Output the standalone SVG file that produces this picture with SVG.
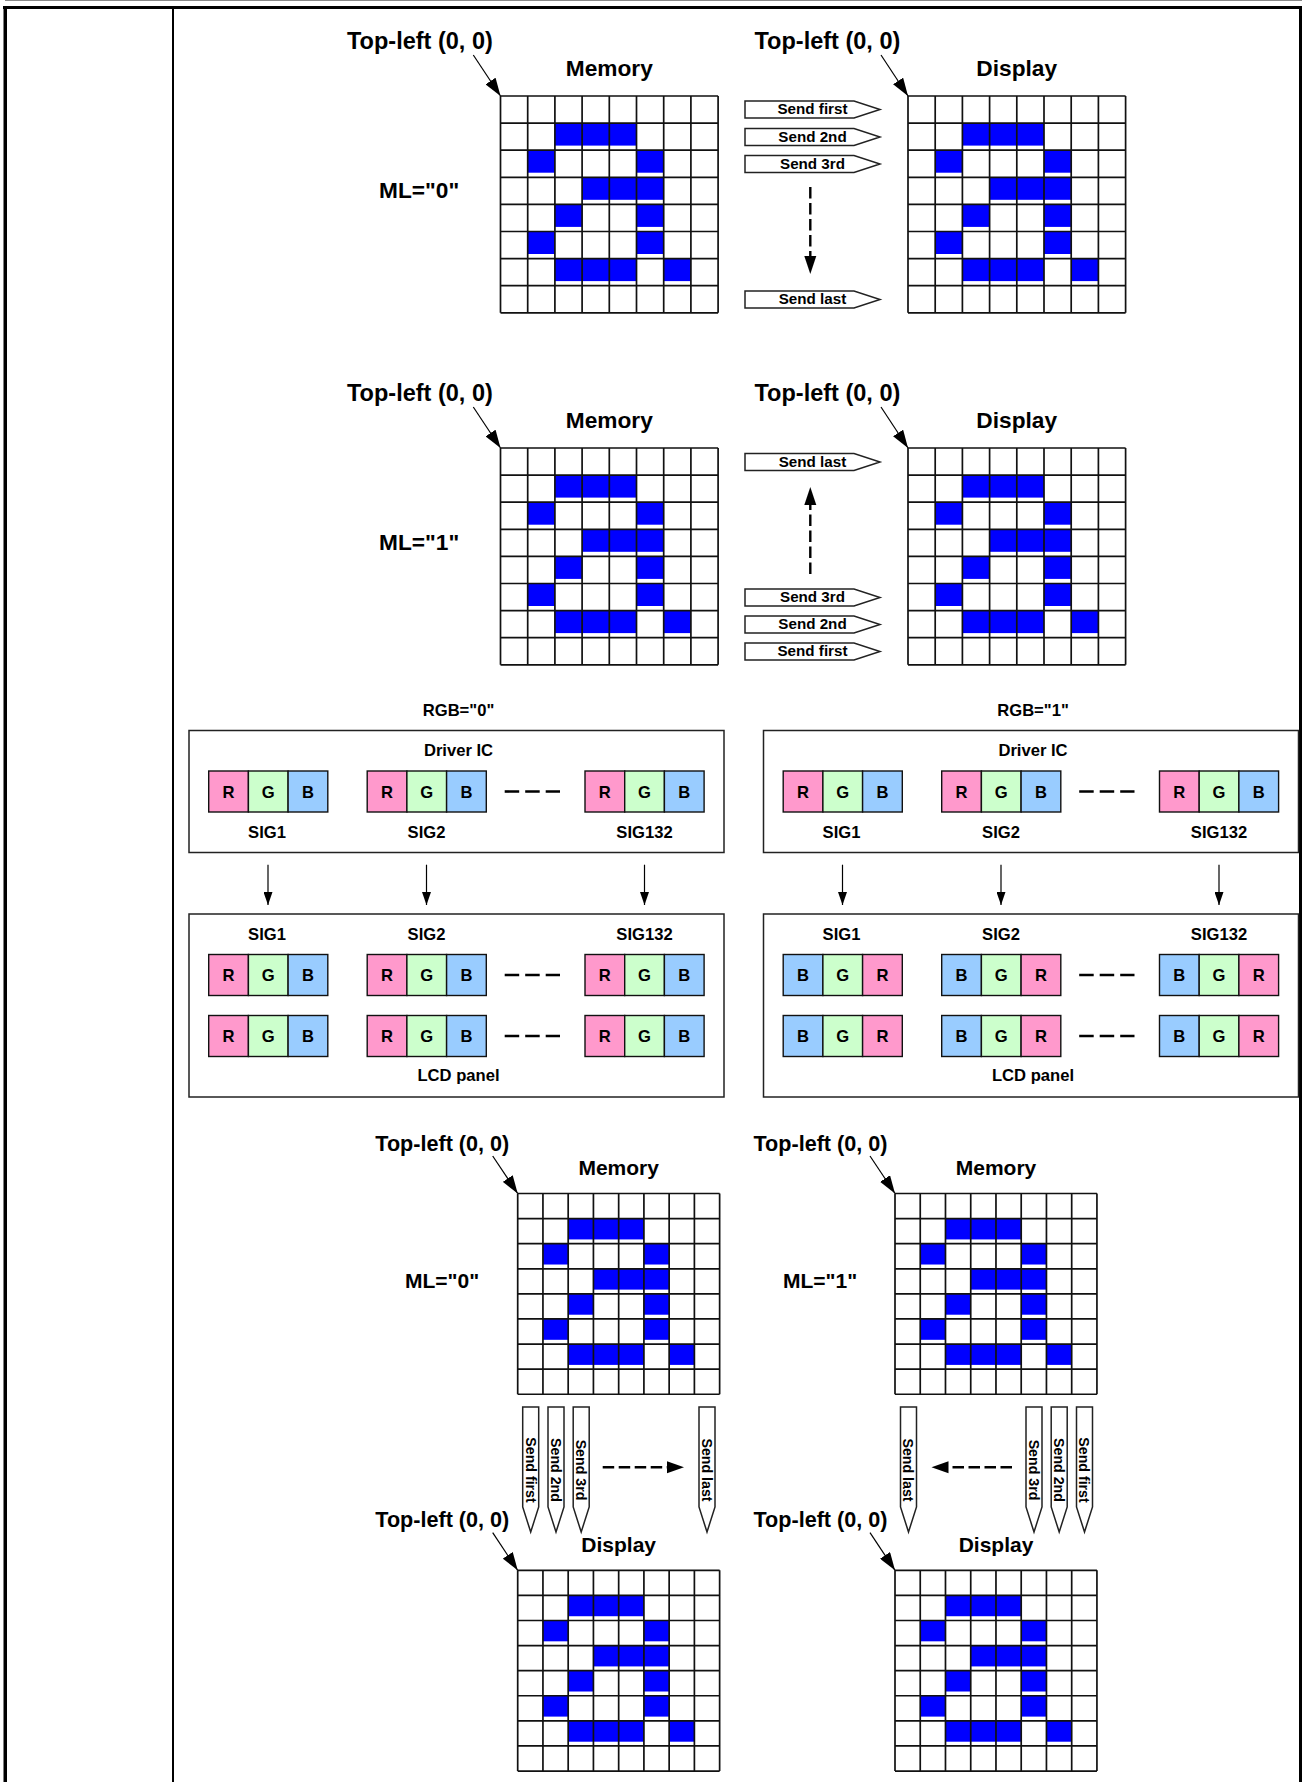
<svg xmlns="http://www.w3.org/2000/svg" xmlns:xlink="http://www.w3.org/1999/xlink" width="1302" height="1782" viewBox="0 0 1302 1782">
<style>
text{font-family:"Liberation Sans",Arial,sans-serif;font-weight:700;fill:#000}
.tl{font-size:23.5px}.h{font-size:22.7px}.tlb{font-size:21.6px}.hb{font-size:21px}
.s{font-size:15.2px;text-anchor:middle}.sv{font-size:14.2px;text-anchor:middle}
.m{text-anchor:middle}.r{font-size:16.6px;text-anchor:middle}
.gl{stroke:#111;stroke-width:1.7;fill:none}
.tag{fill:#fff;stroke:#222;stroke-width:1.5}
.box{fill:#fff;stroke:#222;stroke-width:1.5}
.cr{fill:#FF99CC}.cg{fill:#CCFFCC}.cb{fill:#99CCFF}
.cs{stroke:#111;stroke-width:1.4}
.dash{stroke:#000;stroke-width:2.4;stroke-dasharray:11.5 4.5;fill:none}
.ln{stroke:#000;stroke-width:1.2;fill:none}
.dd{stroke:#000;stroke-width:2.6;stroke-dasharray:14.5 6;fill:none}
</style>
<defs>
<marker id="ah" viewBox="0 0 18 12" refX="18" refY="6" markerWidth="18" markerHeight="12" markerUnits="userSpaceOnUse" orient="auto"><path d="M0 0L18 6L0 12Z" fill="#000"/></marker>
<marker id="as" viewBox="0 0 13 9" refX="13" refY="4.5" markerWidth="13" markerHeight="9" markerUnits="userSpaceOnUse" orient="auto"><path d="M0 0L13 4.5L0 9Z" fill="#000"/></marker>
<g id="grid">
<g fill="#0000FF">
<rect x="54.4" y="27.1" width="81.6" height="22.5"/>
<rect x="27.2" y="54.2" width="27.2" height="22.5"/><rect x="136" y="54.2" width="27.2" height="22.5"/>
<rect x="81.6" y="81.3" width="81.6" height="22.5"/>
<rect x="54.4" y="108.4" width="27.2" height="22.5"/><rect x="136" y="108.4" width="27.2" height="22.5"/>
<rect x="27.2" y="135.5" width="27.2" height="22.5"/><rect x="136" y="135.5" width="27.2" height="22.5"/>
<rect x="54.4" y="162.6" width="81.6" height="22.5"/><rect x="163.2" y="162.6" width="27.2" height="22.5"/>
</g>
<path class="gl" vector-effect="non-scaling-stroke" d="M0 0H217.6M0 27.1H217.6M0 54.2H217.6M0 81.3H217.6M0 108.4H217.6M0 135.5H217.6M0 162.6H217.6M0 189.7H217.6M0 216.8H217.6M0 0V216.8M27.2 0V216.8M54.4 0V216.8M81.6 0V216.8M108.8 0V216.8M136 0V216.8M163.2 0V216.8M190.4 0V216.8M217.6 0V216.8"/>
</g>
<polygon id="tagh" class="tag" points="0,0 109,0 135,8.5 109,17 0,17"/>
<polygon id="tagv" class="tag" points="0,0 16,0 16,100 8,125 0,100"/>
<g id="rgb"><rect class="cr cs" width="39.7" height="41"/><rect class="cg cs" x="39.7" width="39.7" height="41"/><rect class="cb cs" x="79.4" width="39.7" height="41"/>
<text class="r" x="19.8" y="26.5">R</text><text class="r" x="59.5" y="26.5">G</text><text class="r" x="99.2" y="26.5">B</text></g>
<g id="bgr"><rect class="cb cs" width="39.7" height="41"/><rect class="cg cs" x="39.7" width="39.7" height="41"/><rect class="cr cs" x="79.4" width="39.7" height="41"/>
<text class="r" x="19.8" y="26.5">B</text><text class="r" x="59.5" y="26.5">G</text><text class="r" x="99.2" y="26.5">R</text></g>
</defs>
<rect width="1302" height="1782" fill="#fff"/>
<g id="frame">
<rect x="5" y="0" width="1297" height="1" fill="#888"/>
<rect x="3" y="6" width="1299" height="3" fill="#000"/>
<rect x="3.5" y="6" width="3.5" height="1776" fill="#000"/>
<rect x="172" y="6" width="2" height="1776" fill="#000"/>
<rect x="1299" y="6" width="3" height="1776" fill="#000"/>
</g>
<g id="section-ml0">
<text class="tl" x="347" y="49">Top-left (0, 0)</text>
<text class="tl" x="754.5" y="49">Top-left (0, 0)</text>
<text class="h m" x="609.3" y="75.7">Memory</text>
<text class="h m" x="1016.7" y="75.7">Display</text>
<text class="h" x="379" y="198">ML="0"</text>
<use id="memory-a" href="#grid" x="500.5" y="96"/>
<use id="display-a" href="#grid" x="908" y="96"/>
</g>
<g id="tags-a">
<use href="#tagh" x="745" y="101"/><text class="s" x="812.5" y="114">Send first</text>
<use href="#tagh" x="745" y="128.5"/><text class="s" x="812.5" y="141.5">Send 2nd</text>
<use href="#tagh" x="745" y="155.5"/><text class="s" x="812.5" y="168.5">Send 3rd</text>
<use href="#tagh" x="745" y="291"/><text class="s" x="812.5" y="304">Send last</text>
</g>
<g id="section-ml1">
<text class="tl" x="347" y="401">Top-left (0, 0)</text>
<text class="tl" x="754.5" y="401">Top-left (0, 0)</text>
<text class="h m" x="609.3" y="427.7">Memory</text>
<text class="h m" x="1016.7" y="427.7">Display</text>
<text class="h" x="379" y="550">ML="1"</text>
<use id="memory-b" href="#grid" x="500.5" y="448"/>
<use id="display-b" href="#grid" x="908" y="448"/>
</g>
<g id="tags-b">
<use href="#tagh" x="745" y="453.5"/><text class="s" x="812.5" y="466.5">Send last</text>
<use href="#tagh" x="745" y="589"/><text class="s" x="812.5" y="602">Send 3rd</text>
<use href="#tagh" x="745" y="616"/><text class="s" x="812.5" y="629">Send 2nd</text>
<use href="#tagh" x="745" y="643"/><text class="s" x="812.5" y="656">Send first</text>
</g>
<g id="rgb0">
<text class="r" x="458.5" y="715.5">RGB="0"</text>
<g id="driver-a"><rect class="box" x="189" y="730.5" width="535" height="122"/>
<text class="r" x="458.5" y="756">Driver IC</text>
<use href="#rgb" x="208.7" y="771"/><use href="#rgb" x="367.2" y="771"/><use href="#rgb" x="585" y="771"/>
<path class="dd" d="M504.7 791.5H560"/>
<text class="r" x="267" y="837.5">SIG1</text><text class="r" x="426.5" y="837.5">SIG2</text><text class="r" x="644.5" y="837.5">SIG132</text></g>
<g id="panel-a"><rect class="box" x="189" y="914" width="535" height="183"/>
<text class="r" x="267" y="939.5">SIG1</text><text class="r" x="426.5" y="939.5">SIG2</text><text class="r" x="644.5" y="939.5">SIG132</text>
<use href="#rgb" x="208.7" y="954.5"/><use href="#rgb" x="367.2" y="954.5"/><use href="#rgb" x="585" y="954.5"/>
<use href="#rgb" x="208.7" y="1015.5"/><use href="#rgb" x="367.2" y="1015.5"/><use href="#rgb" x="585" y="1015.5"/>
<path class="dd" d="M504.7 975H560M504.7 1036H560"/>
<text class="r" x="458.5" y="1081">LCD panel</text></g>
</g>
<g id="rgb1">
<text class="r" x="1033" y="715.5">RGB="1"</text>
<g id="driver-b"><rect class="box" x="763.5" y="730.5" width="535" height="122"/>
<text class="r" x="1033" y="756">Driver IC</text>
<use href="#rgb" x="783.2" y="771"/><use href="#rgb" x="941.7" y="771"/><use href="#rgb" x="1159.5" y="771"/>
<path class="dd" d="M1079.2 791.5H1134.5"/>
<text class="r" x="841.5" y="837.5">SIG1</text><text class="r" x="1001" y="837.5">SIG2</text><text class="r" x="1219" y="837.5">SIG132</text></g>
<g id="panel-b"><rect class="box" x="763.5" y="914" width="535" height="183"/>
<text class="r" x="841.5" y="939.5">SIG1</text><text class="r" x="1001" y="939.5">SIG2</text><text class="r" x="1219" y="939.5">SIG132</text>
<use href="#bgr" x="783.2" y="954.5"/><use href="#bgr" x="941.7" y="954.5"/><use href="#bgr" x="1159.5" y="954.5"/>
<use href="#bgr" x="783.2" y="1015.5"/><use href="#bgr" x="941.7" y="1015.5"/><use href="#bgr" x="1159.5" y="1015.5"/>
<path class="dd" d="M1079.2 975H1134.5M1079.2 1036H1134.5"/>
<text class="r" x="1033" y="1081">LCD panel</text></g>
</g>
<g id="section-page">
<text class="tlb" x="375.3" y="1150.5">Top-left (0, 0)</text>
<text class="tlb" x="753.5" y="1150.5">Top-left (0, 0)</text>
<text class="hb m" x="618.7" y="1175">Memory</text>
<text class="hb m" x="996" y="1175">Memory</text>
<text class="hb" x="405" y="1288">ML="0"</text>
<text class="hb" x="783" y="1288">ML="1"</text>
<use id="memory-c" href="#grid" transform="translate(517.7 1193.5) scale(.928 .926)"/>
<use id="memory-d" href="#grid" transform="translate(895 1193.5) scale(.928 .926)"/>
<text class="tlb" x="375.3" y="1527">Top-left (0, 0)</text>
<text class="tlb" x="753.5" y="1527">Top-left (0, 0)</text>
<text class="hb m" x="618.7" y="1551.7">Display</text>
<text class="hb m" x="996" y="1551.7">Display</text>
<use id="display-c" href="#grid" transform="translate(517.7 1570.3) scale(.928 .926)"/>
<use id="display-d" href="#grid" transform="translate(895 1570.3) scale(.928 .926)"/>
</g>
<g id="tags-c">
<use href="#tagv" x="522.7" y="1407"/><text class="sv" transform="translate(525.5 1470) rotate(90)">Send first</text>
<use href="#tagv" x="548" y="1407"/><text class="sv" transform="translate(550.8 1470) rotate(90)">Send 2nd</text>
<use href="#tagv" x="573.2" y="1407"/><text class="sv" transform="translate(576 1470) rotate(90)">Send 3rd</text>
<use href="#tagv" x="699" y="1407"/><text class="sv" transform="translate(701.8 1470) rotate(90)">Send last</text>
</g>
<g id="tags-d">
<use href="#tagv" x="900.5" y="1407"/><text class="sv" transform="translate(903.3 1470) rotate(90)">Send last</text>
<use href="#tagv" x="1026" y="1407"/><text class="sv" transform="translate(1028.8 1470) rotate(90)">Send 3rd</text>
<use href="#tagv" x="1051.2" y="1407"/><text class="sv" transform="translate(1054 1470) rotate(90)">Send 2nd</text>
<use href="#tagv" x="1076.5" y="1407"/><text class="sv" transform="translate(1079.3 1470) rotate(90)">Send first</text>
</g>
<g id="connectors">
<path class="ln" marker-end="url(#ah)" d="M473.3 55L500.5 96"/>
<path class="ln" marker-end="url(#ah)" d="M881 55L908 96"/>
<path class="ln" marker-end="url(#ah)" d="M473.3 407L500.5 448"/>
<path class="ln" marker-end="url(#ah)" d="M881 407L908 448"/>
<path class="dash" d="M810.3 187V258"/><path d="M804.3 256H816.3L810.3 274Z"/>
<path class="dash" d="M810.3 574V503"/><path d="M804.3 505H816.3L810.3 487Z"/>
<path class="ln" marker-end="url(#as)" d="M268 864.7V905"/><path class="ln" marker-end="url(#as)" d="M426.5 864.7V905"/><path class="ln" marker-end="url(#as)" d="M644.5 864.7V905"/>
<path class="ln" marker-end="url(#as)" d="M842.5 864.7V905"/><path class="ln" marker-end="url(#as)" d="M1001 864.7V905"/><path class="ln" marker-end="url(#as)" d="M1219 864.7V905"/>
<path class="ln" marker-end="url(#ah)" d="M492.7 1156L517.7 1193.5"/>
<path class="ln" marker-end="url(#ah)" d="M870 1156L895 1193.5"/>
<path class="ln" marker-end="url(#ah)" d="M492.7 1532.7L517.7 1570.3"/>
<path class="ln" marker-end="url(#ah)" d="M870 1532.7L895 1570.3"/>
<path class="dash" d="M602.7 1467.3H668"/><path d="M667 1461.3V1473.3L684 1467.3Z"/>
<path class="dash" d="M1012 1467.3H947"/><path d="M948.5 1461.3V1473.3L931.5 1467.3Z"/>
</g>
</svg>
